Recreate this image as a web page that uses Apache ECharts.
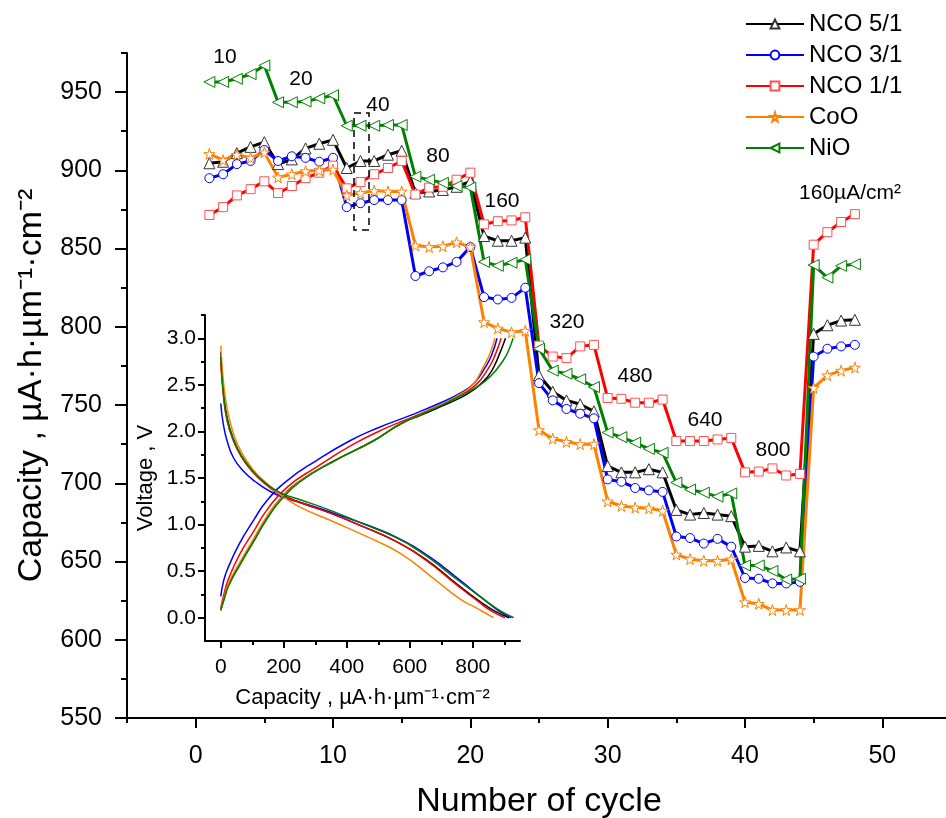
<!DOCTYPE html>
<html lang="en">
<head>
<meta charset="UTF-8">
<title>Rate capability</title>
<script src="https://cdn.jsdelivr.net/npm/echarts@6/dist/echarts.min.js"></script>
<style>
  html, body { margin: 0; padding: 0; background: #fff; }
  #main { width: 946px; height: 818px; }
</style>
</head>
<body>
<div id="main"></div>
<script>
// cycle numbers (main chart)
var cycles = [1,2,3,4,5,6,7,8,9,10,11,12,13,14,15,16,17,18,19,20,21,22,23,24,
              25,26,27,28,29,30,31,32,33,34,35,36,37,38,39,40,41,42,43,44,45,46,47,48];

// capacity per cycle, uA*h*um-1*cm-2
var nco51 = [904.5,905.5,911,915,918, 904,907,914,917,919.5, 901.5,906,906,910,912.5,
             885.5,886.5,887.5,889.5,893, 858,855,855,857, 769,758.5,753,750.5,746,
             711,707,707,709,707, 683,680,681,680,679, 659.5,660,656.5,659,656.5,
             795.5,801,804,804.5];
var nco31 = [895,897.5,904,906,913, 906,909,908,905.5,908, 876.5,879,881,881,881,
             832.5,835.5,838,841.5,851, 819,817.5,818.5,825, 764,753,747.5,744.5,741.5,
             702.5,701,697,695.5,694.5, 666,665,661.5,664.5,659.5, 639.5,639,636,636,637,
             781,786,787.5,788.5];
var nco11 = [871.5,876.5,884,888,893, 885.5,890,895,898.5,903, 888.5,892.5,897.5,901.5,906,
             884.5,889,889.5,894,898.5, 865.5,867.5,868,870, 788,781,780,787.5,788.5,
             754.5,754,751.5,751.5,753.5, 727,727,727,728,729, 707,707.5,709.5,705,706,
             852.5,860.5,867,872];
var coo   = [910.5,906.5,910,908,911.5, 895.5,897.5,899.5,900,900.5, 884,885.5,887,886.5,886.5,
             852,851,851.5,854,851, 803,799,796.5,797.5, 734,728.5,726.5,725,725,
             688.5,685.5,684.5,684,682.5, 654.5,651.5,650.5,650.5,651.5, 624,623,619,619,619,
             761,769,772,774];
var nio   = [956.5,956.5,958.5,961.5,967, 943.5,943.5,944,946,948, 928.5,928.5,928.5,929,929,
             896,894,892,890,889, 841.5,839,841,843, 786,772,770,766.5,761.5,
             732.5,729.5,726,722,719.5, 700.5,696,694,691.5,693.5, 647.5,647.5,644,638.5,639,
             839.5,831.5,839,840];

// inset: [capacity, voltage]
var nco51Charge = [[0,0.08],[10,0.2],[25,0.36],[60,0.58],[105,0.84],[145,1.07],[190,1.28],[252,1.47],
                   [358,1.68],[485,1.9],[570,2.08],[640,2.18],[700,2.27],[760,2.36],[800,2.44],
                   [835,2.54],[860,2.65],[880,2.79],[904,3.0]];
var nco31Charge = [[0,0.23],[8,0.38],[20,0.51],[60,0.8],[105,1.05],[145,1.25],[210,1.47],[305,1.69],
                   [410,1.9],[500,2.04],[600,2.17],[700,2.31],[760,2.41],[805,2.52],[840,2.69],
                   [860,2.82],[877,3.0]];
var nco11Charge = [[0,0.1],[10,0.25],[25,0.42],[60,0.68],[105,0.93],[145,1.15],[210,1.4],[305,1.62],
                   [420,1.86],[520,2.03],[620,2.17],[700,2.29],[760,2.39],[810,2.5],[850,2.68],
                   [872,2.83],[890,3.0]];
var cooCharge   = [[0,0.08],[10,0.21],[25,0.37],[60,0.59],[105,0.85],[145,1.08],[190,1.28],[252,1.47],
                   [358,1.68],[485,1.9],[570,2.08],[640,2.19],[700,2.29],[760,2.4],[800,2.5],
                   [835,2.7],[855,2.84],[870,3.0]];
var nioCharge   = [[0,0.08],[10,0.19],[25,0.34],[60,0.56],[105,0.82],[145,1.05],[190,1.26],[252,1.46],
                   [358,1.68],[485,1.9],[570,2.08],[640,2.19],[700,2.28],[760,2.38],[810,2.47],
                   [856,2.59],[898,2.77],[915,2.88],[928,3.0]];

var nco51Discharge = [[0,2.85],[8,2.45],[20,2.15],[40,1.92],[65,1.74],[100,1.58],[140,1.45],[190,1.33],
                      [250,1.24],[350,1.12],[450,0.98],[550,0.83],[650,0.63],[750,0.36],[820,0.18],
                      [870,0.07],[915,0.0]];
var nco31Discharge = [[0,2.3],[8,2.08],[20,1.9],[40,1.72],[70,1.58],[110,1.46],[160,1.35],[210,1.28],
                      [280,1.21],[360,1.12],[460,1.0],[560,0.86],[660,0.66],[760,0.4],[830,0.21],
                      [880,0.08],[922,0.0]];
var nco11Discharge = [[0,2.75],[8,2.4],[20,2.12],[40,1.9],[65,1.73],[100,1.57],[140,1.44],[190,1.32],
                      [250,1.24],[350,1.12],[450,0.98],[550,0.83],[650,0.62],[750,0.35],[815,0.18],
                      [860,0.07],[902,0.0]];
var cooDischarge   = [[0,2.92],[8,2.55],[20,2.25],[40,1.98],[65,1.78],[100,1.6],[140,1.46],[190,1.32],
                      [250,1.19],[358,1.03],[464,0.87],[570,0.69],[676,0.42],[760,0.2],[814,0.1],
                      [845,0.04],[866,0.0]];
var nioDischarge   = [[0,2.8],[8,2.42],[20,2.13],[40,1.91],[65,1.74],[100,1.58],[140,1.45],[190,1.34],
                      [250,1.27],[350,1.15],[450,1.01],[550,0.87],[650,0.67],[750,0.41],[830,0.21],
                      [880,0.09],[930,0.0]];

// rate labels, uA/cm2
var rateLabels = ['10','20','40','80','160','320','480','640','800','160\u00b5A/cm\u00b2'];

var FONT = '"Liberation Sans", Arial, sans-serif';
var BLACK = '#000000', BLUE = '#0000FF', RED = '#FF0000', ORANGE = '#FF8000', GREEN = '#008000';
var STAR = 'path://M50,0 L61,35 L98,35 L68,57 L79,91 L50,70 L21,91 L32,57 L2,35 L39,35 Z';

function pairs(xs, ys) {
    var out = [];
    for (var i = 0; i < xs.length; i++) out.push([xs[i], ys[i]]);
    return out;
}

function mainSeries(name, vals, color, border, symbol, size, rotate) {
    return {
        name: name,
        type: 'line',
        xAxisIndex: 0,
        yAxisIndex: 0,
        data: pairs(cycles, vals),
        symbol: symbol,
        symbolSize: size,
        symbolRotate: rotate || 0,
        lineStyle: { color: color, width: 3 },
        itemStyle: { color: '#fff', borderColor: border, borderWidth: 1 },
        z: 3
    };
}

function insetSeries(name, pts, color) {
    return {
        name: name,
        type: 'line',
        xAxisIndex: 2,
        yAxisIndex: 2,
        data: pts,
        smooth: true,
        showSymbol: false,
        lineStyle: { color: color, width: 1.5 },
        itemStyle: { color: color },
        z: 2
    };
}

var axisBlack = { color: BLACK, width: 2 };

// helper for the axes: a labelled axis or a bare tick row laid over it
function axis(grid, min, max, pos, ticks, len, extra) {
    var a = {
        gridIndex: grid, type: 'value', min: min, max: max, position: pos,
        axisLine: { show: true, onZero: false, lineStyle: axisBlack },
        axisTick: { customValues: ticks, length: len, lineStyle: axisBlack },
        axisLabel: { show: false },
        splitLine: { show: false }
    };
    for (var k in extra) a[k] = extra[k];
    return a;
}

var chart = echarts.init(document.getElementById('main'));

// label positions for the current densities
var labelPos = [[225,57],[301,79],[378,105],[438,156],[502,201],[567,322],[635,376],[705,420],[773,450],[850,193]];
var graphics = labelPos.map(function (p, i) {
    return {
        type: 'text', x: p[0], y: p[1], z: 10,
        style: { text: rateLabels[i], fontSize: 21, fontFamily: FONT, fill: BLACK,
                 textAlign: 'center', textVerticalAlign: 'middle' }
    };
});
graphics.push({
    type: 'rect', z: 10,
    shape: { x: 354, y: 113, width: 15, height: 117 },
    style: { fill: 'transparent', stroke: BLACK, lineWidth: 1.5, lineDash: [7, 5] }
});

var capName = 'Capacity , \u00b5A\u00b7h\u00b7\u00b5m\u207b\u00b9\u00b7cm\u207b\u00b2';
var hidden = { show: false, onZero: false };

var option = {
    animation: false,
    backgroundColor: '#fff',
    textStyle: { fontFamily: FONT },
    legend: {
        data: ['NCO 5/1', 'NCO 3/1', 'NCO 1/1', 'CoO', 'NiO'],
        orient: 'vertical',
        left: 745,
        top: 12,
        padding: 0,
        itemWidth: 58,
        itemHeight: 11,
        itemGap: 7,
        textStyle: { fontSize: 24, lineHeight: 24, color: BLACK, fontFamily: FONT }
    },
    grid: [
        { left: 127, top: 53, width: 824, height: 665, outerBoundsMode: 'none', containLabel: false },
        { left: 205, top: 315, width: 315, height: 326, outerBoundsMode: 'none', containLabel: false }
    ],
    xAxis: [
        axis(0, -5, 55, 'bottom', [0,10,20,30,40,50], 10, {
            name: 'Number of cycle', nameLocation: 'middle', nameGap: 67,
            nameTextStyle: { fontSize: 34, color: BLACK, fontFamily: FONT },
            axisLabel: { customValues: [0,10,20,30,40,50], fontSize: 25, margin: 26, color: BLACK, fontFamily: FONT }
        }),
        axis(0, -5, 55, 'bottom', [-5,5,15,25,35,45,55], 5, { axisLine: hidden }),
        axis(1, -50, 950, 'bottom', [0,200,400,600,800], 7, {
            name: capName, nameLocation: 'middle', nameGap: 46,
            nameTextStyle: { fontSize: 22, color: BLACK, fontFamily: FONT },
            axisLabel: { customValues: [0,200,400,600,800], fontSize: 21, margin: 16, color: BLACK, fontFamily: FONT }
        }),
        axis(1, -50, 950, 'bottom', [100,300,500,700,900], 4, { axisLine: hidden })
    ],
    yAxis: [
        axis(0, 550, 975, 'left', [550,600,650,700,750,800,850,900,950], 12, {
            name: capName, nameLocation: 'middle', nameGap: 78,
            nameTextStyle: { fontSize: 34, color: BLACK, fontFamily: FONT },
            axisLabel: { customValues: [550,600,650,700,750,800,850,900,950], fontSize: 25, margin: 25, color: BLACK, fontFamily: FONT }
        }),
        axis(0, 550, 975, 'left', [575,625,675,725,775,825,875,925,975], 6, { axisLine: hidden }),
        axis(1, -0.25, 3.25, 'left', [0,0.5,1,1.5,2,2.5,3], 7, {
            name: 'Voltage , V', nameLocation: 'middle', nameGap: 48,
            nameTextStyle: { fontSize: 22, color: BLACK, fontFamily: FONT },
            axisLabel: { customValues: [0,0.5,1,1.5,2,2.5,3], fontSize: 21, margin: 9, color: BLACK, fontFamily: FONT,
                         formatter: function (v) { return v.toFixed(1); } }
        }),
        axis(1, -0.25, 3.25, 'left', [0.25,0.75,1.25,1.75,2.25,2.75,3.25], 4, { axisLine: hidden })
    ],
    graphic: graphics,
    series: [
        insetSeries('NCO 5/1 charge', nco51Charge, BLACK),
        insetSeries('NCO 5/1 discharge', nco51Discharge, BLACK),
        insetSeries('NCO 3/1 charge', nco31Charge, BLUE),
        insetSeries('NCO 3/1 discharge', nco31Discharge, BLUE),
        insetSeries('NCO 1/1 charge', nco11Charge, RED),
        insetSeries('NCO 1/1 discharge', nco11Discharge, RED),
        insetSeries('CoO charge', cooCharge, ORANGE),
        insetSeries('CoO discharge', cooDischarge, ORANGE),
        insetSeries('NiO charge', nioCharge, GREEN),
        insetSeries('NiO discharge', nioDischarge, GREEN),
        mainSeries('NCO 5/1', nco51, BLACK, '#333333', 'triangle', 11),
        mainSeries('NCO 3/1', nco31, BLUE, BLUE, 'circle', 9),
        mainSeries('NCO 1/1', nco11, RED, '#FF5050', 'rect', 9),
        mainSeries('CoO', coo, ORANGE, ORANGE, STAR, 11),
        mainSeries('NiO', nio, GREEN, GREEN, 'triangle', 11, 90)
    ]
};

chart.setOption(option);
</script>
</body>
</html>
